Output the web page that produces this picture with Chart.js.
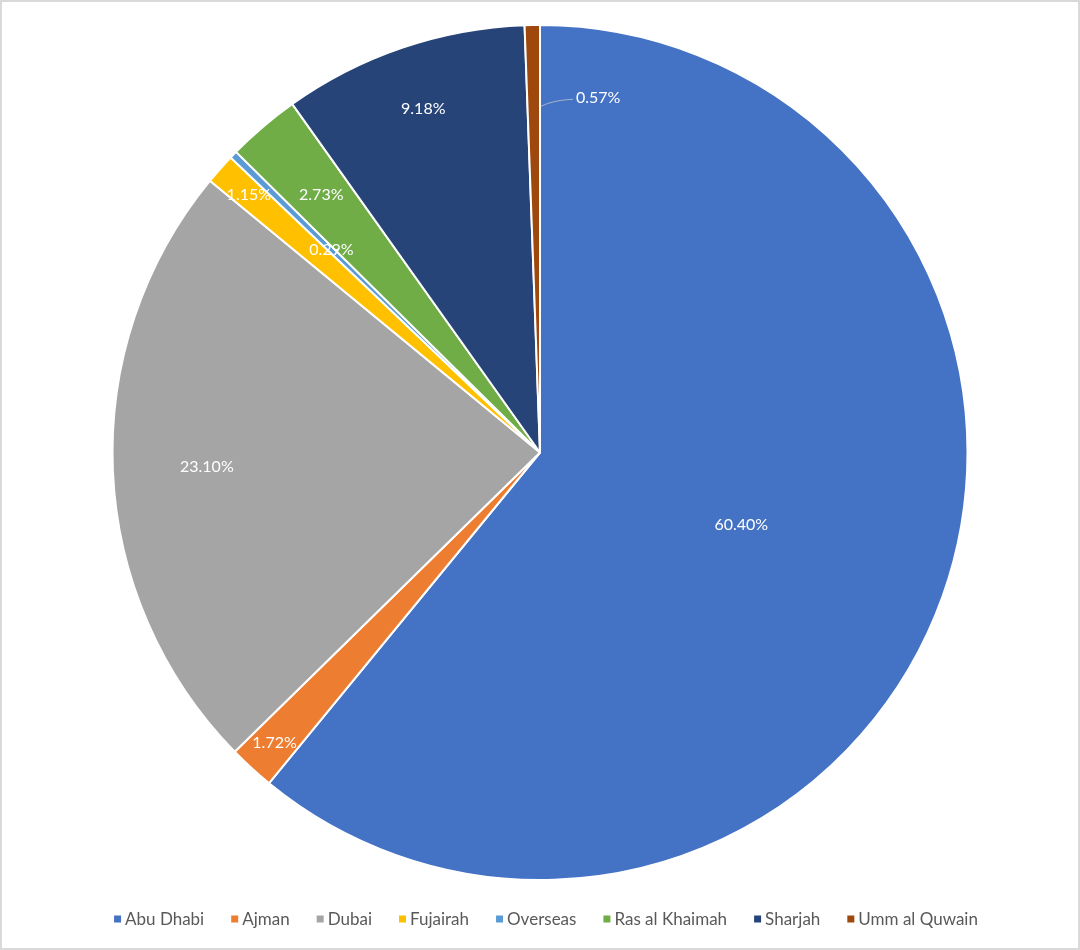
<!DOCTYPE html>
<html>
<head>
<meta charset="utf-8">
<script src="https://cdn.jsdelivr.net/npm/chart.js@4.4.0/dist/chart.umd.min.js"></script>
<style>
  html, body { margin: 0; padding: 0; background: #fff; }
  #wrap { width: 1080px; height: 950px; }
</style>
</head>
<body>
<div id="wrap"><canvas id="graficoCircular" width="1080" height="950"></canvas></div>
<script>
// Datos del gráfico
const emiratos = ['Abu Dhabi', 'Ajman', 'Dubai', 'Fujairah', 'Overseas', 'Ras al Khaimah', 'Sharjah', 'Umm al Quwain'];
const porcentajes = [60.40, 1.72, 23.10, 1.15, 0.29, 2.73, 9.18, 0.57];
const colores = ['#4472C4', '#ED7D31', '#A5A5A5', '#FFC000', '#5B9BD5', '#70AD47', '#264478', '#9E480E'];

// Distancia de cada etiqueta al centro (fracción del radio); null = etiqueta fuera con línea guía
const radioEtiqueta = [0.5, 0.92, 0.78, 0.91, 0.68, 0.79, 0.85, null];

const fuente = "'Lato', 'Open Sans', sans-serif";

// Marco gris alrededor del gráfico
const marco = {
    id: 'marco',
    beforeDraw(chart) {
        const ctx = chart.ctx;
        ctx.save();
        ctx.fillStyle = '#ffffff';
        ctx.fillRect(0, 0, chart.width, chart.height);
        ctx.strokeStyle = '#d9d9d9';
        ctx.lineWidth = 2;
        ctx.strokeRect(1, 1, chart.width - 2, chart.height - 2);
        ctx.restore();
    }
};

// Etiquetas de porcentaje sobre cada porción
const etiquetas = {
    id: 'etiquetas',
    afterDatasetsDraw(chart) {
        const ctx = chart.ctx;
        const meta = chart.getDatasetMeta(0);
        ctx.save();
        ctx.font = '16px ' + fuente;
        ctx.fillStyle = '#ffffff';
        ctx.textBaseline = 'middle';
        meta.data.forEach((arco, i) => {
            const p = arco.getProps(['x', 'y', 'startAngle', 'endAngle', 'outerRadius']);
            const medio = (p.startAngle + p.endAngle) / 2;
            const texto = porcentajes[i].toFixed(2) + '%';
            if (radioEtiqueta[i] !== null) {
                const r = p.outerRadius * radioEtiqueta[i];
                ctx.textAlign = 'center';
                ctx.fillText(texto, p.x + Math.cos(medio) * r, p.y + Math.sin(medio) * r);
            } else {
                const r = p.outerRadius * 0.81;
                const ax = p.x + Math.cos(p.endAngle) * r + 1;
                const ay = p.y + Math.sin(p.endAngle) * r;
                ctx.strokeStyle = '#a5b4cc';
                ctx.lineWidth = 1;
                ctx.beginPath();
                ctx.moveTo(ax, ay);
                ctx.quadraticCurveTo(ax + 12, ay - 6, ax + 32, ay - 7);
                ctx.stroke();
                ctx.textAlign = 'left';
                ctx.fillText(texto, ax + 35, ay - 8);
            }
        });
        ctx.restore();
    }
};

// Leyenda dibujada a mano en la franja inferior
const leyenda = {
    id: 'leyenda',
    afterDraw(chart) {
        const ctx = chart.ctx;
        ctx.save();
        ctx.font = '17px ' + fuente;
        ctx.textBaseline = 'middle';
        ctx.textAlign = 'left';
        const caja = 7, hueco = 4, separacion = 27;
        const anchos = emiratos.map(t => ctx.measureText(t).width);
        const total = anchos.reduce((a, w) => a + caja + hueco + w, 0) + separacion * (emiratos.length - 1);
        let x = chart.width / 2 + 6 - total / 2;
        const y = 919;
        emiratos.forEach((t, i) => {
            ctx.fillStyle = colores[i];
            ctx.fillRect(x, y - caja / 2, caja, caja);
            ctx.fillStyle = '#595959';
            ctx.fillText(t, x + caja + hueco, y + 1);
            x += caja + hueco + anchos[i] + separacion;
        });
        ctx.restore();
    }
};

const ctxCircular = document.getElementById('graficoCircular').getContext('2d');
new Chart(ctxCircular, {
    type: 'pie',
    data: {
        labels: emiratos,
        datasets: [{
            data: porcentajes,
            backgroundColor: colores,
            borderColor: '#ffffff',
            borderWidth: 2
        }]
    },
    options: {
        responsive: false,
        maintainAspectRatio: false,
        animation: false,
        layout: {
            padding: { top: 24, bottom: 69 }
        },
        plugins: {
            legend: { display: false },
            tooltip: { enabled: false }
        }
    },
    plugins: [marco, etiquetas, leyenda]
});
</script>
</body>
</html>
